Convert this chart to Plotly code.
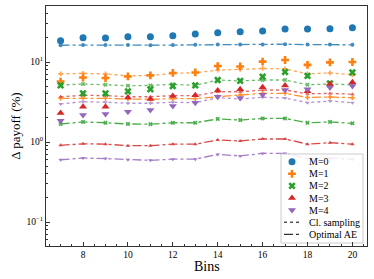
import plotly.graph_objects as go

bins = list(range(7, 21))

m0_pts = [18.5, 20.1, 20.0, 20.7, 20.7, 21.3, 22.4, 23.2, 23.9, 24.4, 25.9, 25.9, 26.1, 26.8]
m0_ae = [16.2, 16.3, 16.3, 16.3, 16.2, 16.3, 16.4, 16.5, 16.5, 16.6, 16.7, 16.5, 16.5, 16.4]

m1_pts = [5.7, 6.4, 6.3, 6.6, 6.8, 7.3, 7.4, 8.9, 8.8, 10.1, 10.6, 9.2, 9.9, 10.0]
m1_cl = [7.1, 7.2, 7.1, 6.7, 6.8, 7.2, 7.35, 7.9, 8.1, 8.3, 8.2, 7.1, 7.3, 6.9]
m1_ae = [3.52, 3.55, 3.52, 3.45, 3.42, 3.48, 3.48, 3.68, 3.87, 4.06, 4.06, 3.6, 3.65, 3.58]

m2_pts = [5.1, 4.06, 4.06, 4.3, 4.56, 5.0, 5.1, 5.95, 5.8, 6.55, 7.5, 6.7, 5.4, 7.4]
m2_cl = [5.16, 5.3, 5.2, 5.05, 5.1, 5.26, 5.1, 5.95, 5.8, 5.95, 5.96, 5.2, 5.3, 5.2]
m2_ae = [1.68, 1.78, 1.74, 1.68, 1.67, 1.74, 1.74, 1.94, 1.88, 1.97, 1.97, 1.74, 1.78, 1.71]

m3_pts = [2.3, 2.75, 2.75, 3.6, 3.45, 3.76, 3.83, 4.39, 4.56, 4.85, 5.1, 4.3, 5.3, 5.6]
m3_cl = [3.68, 3.83, 3.8, 3.68, 3.68, 3.8, 3.79, 4.25, 4.25, 4.47, 4.47, 4.0, 4.05, 3.95]
m3_ae = [0.91, 0.95, 0.94, 0.9, 0.9, 0.94, 0.94, 1.06, 1.03, 1.09, 1.09, 0.94, 0.98, 0.94]

m4_pts = [1.85, 2.18, 2.24, 2.39, 2.51, 2.82, 3.1, 3.68, 3.55, 3.9, 4.47, 4.56, 4.8, 5.0]
m4_cl = [2.99, 3.19, 3.14, 3.05, 3.05, 3.14, 3.1, 3.58, 3.45, 3.62, 3.55, 3.1, 3.25, 3.1]
m4_ae = [0.6, 0.63, 0.62, 0.6, 0.59, 0.61, 0.61, 0.7, 0.67, 0.72, 0.72, 0.62, 0.63, 0.61]

labels = ["M=0", "M=1", "M=2", "M=3", "M=4"]
line_labels = ["Cl. sampling", "Optimal AE"]
colors = ["#1f77b4", "#ff7f0e", "#2ca02c", "#d62728", "#9467bd"]
symbols = ["circle", "cross", "x", "triangle-up", "triangle-down"]
msizes = [7, 6.5, 6.5, 7, 7]
pts = [m0_pts, m1_pts, m2_pts, m3_pts, m4_pts]
cls = [None, m1_cl, m2_cl, m3_cl, m4_cl]
aes = [m0_ae, m1_ae, m2_ae, m3_ae, m4_ae]

FONT = "Liberation Serif"
W, H = 374, 279
ML, MR, MT, MB = 46, 7, 6, 33

fig = go.Figure()

for i in range(5):
    if cls[i] is not None:
        fig.add_trace(go.Scatter(x=bins, y=cls[i], mode="lines+markers", showlegend=False,
                                 line=dict(color=colors[i], dash="dot", width=1.3),
                                 marker=dict(symbol=symbols[i], size=4, color=colors[i]), opacity=0.7))
    fig.add_trace(go.Scatter(x=bins, y=aes[i], mode="lines+markers", showlegend=False,
                             line=dict(color=colors[i], dash="dashdot", width=1.3),
                             marker=dict(symbol=symbols[i], size=4, color=colors[i]), opacity=0.85))

for i in range(5):
    fig.add_trace(go.Scatter(x=bins, y=pts[i], mode="markers", name=labels[i], showlegend=False,
                             marker=dict(symbol=symbols[i], size=msizes[i], color=colors[i], line=dict(width=0))))

# ---- custom legend on an overlay axis measured in pixels ----
bx0, bx1, by0, by1 = 281, 363, 154, 243
row0, rowstep = 161.7, 12.1
mk_x, txt_x, ln_x0, ln_x1 = 292, 307, 284, 301

fig.add_trace(go.Scatter(x=[bx0, bx1, bx1, bx0, bx0], y=[by0, by0, by1, by1, by0],
                         mode="lines", fill="toself", fillcolor="rgba(255,255,255,0.85)",
                         line=dict(color="#cccccc", width=1), xaxis="x2", yaxis="y2",
                         showlegend=False, hoverinfo="skip"))
for i in range(5):
    fig.add_trace(go.Scatter(x=[mk_x], y=[row0 + i * rowstep], mode="markers", xaxis="x2", yaxis="y2",
                             marker=dict(symbol=symbols[i], size=msizes[i], color=colors[i], line=dict(width=0)),
                             showlegend=False, hoverinfo="skip"))
for j, d in enumerate(["dot", "dashdot"]):
    yy = row0 + (5 + j) * rowstep
    fig.add_trace(go.Scatter(x=[ln_x0, ln_x1], y=[yy, yy], mode="lines", xaxis="x2", yaxis="y2",
                             line=dict(color="black", dash=d, width=1), showlegend=False, hoverinfo="skip"))

annotations = []
for k, t in enumerate(labels + line_labels):
    annotations.append(dict(x=txt_x, y=row0 + k * rowstep, xref="x2", yref="y2", text=t,
                            showarrow=False, xanchor="left", yanchor="middle",
                            font=dict(family=FONT, size=10, color="black")))
annotations.append(dict(x=0.5, y=-(266 - (H - MB)) / (H - MT - MB), xref="paper", yref="paper",
                        text="Bins", showarrow=False, xanchor="center", yanchor="middle",
                        font=dict(family=FONT, size=14, color="black")))

axis_common = dict(ticks="inside", ticklen=4, tickcolor="#333", showgrid=False, zeroline=False,
                   showline=True, linecolor="#333", linewidth=1, mirror=True, tickfont=dict(size=9.5))

fig.update_layout(
    width=W, height=H,
    margin=dict(l=ML, r=MR, t=MT, b=MB),
    paper_bgcolor="white", plot_bgcolor="white",
    font=dict(family=FONT, size=9, color="black"),
    showlegend=False,
    annotations=annotations,
    xaxis=dict(range=[6.35, 20.65], tickvals=[8, 10, 12, 14, 16, 18, 20],
               minor=dict(ticks="inside", ticklen=2, dtick=0.5, tickcolor="#333", showgrid=False),
               **axis_common),
    yaxis=dict(type="log", range=[-1.3, 1.7],
               tickvals=[0.1, 1, 10], ticktext=["10<sup>−1</sup>", "10<sup>0</sup>", "10<sup>1</sup>"],
               minor=dict(ticks="inside", ticklen=2, dtick="D1", tickcolor="#333", showgrid=False),
               title=dict(text="Δ payoff (%)", font=dict(size=13, family=FONT), standoff=2),
               **axis_common),
    xaxis2=dict(overlaying="x", anchor="y2", range=[ML, W - MR], visible=False, fixedrange=True),
    yaxis2=dict(overlaying="y", anchor="x2", range=[H - MB, MT], visible=False, fixedrange=True),
)

fig.write_html("out.html", config={"displayModeBar": False},
               post_script="document.body.style.margin='0';document.body.style.overflow='hidden';")
